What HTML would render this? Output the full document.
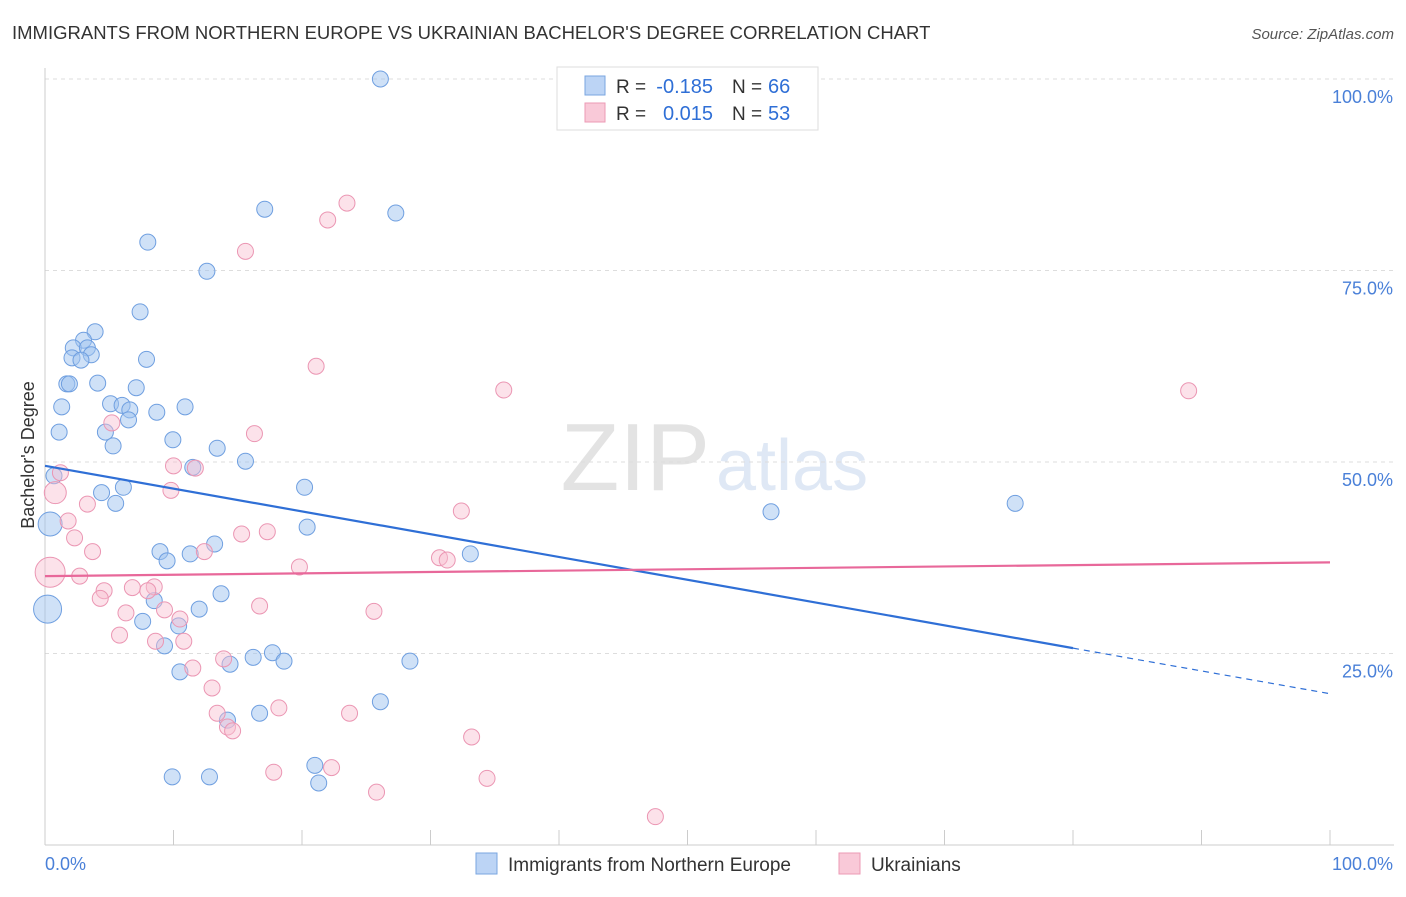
<!DOCTYPE html>
<html><head><meta charset="utf-8"><style>
body{margin:0;background:#fff;font-family:"Liberation Sans",sans-serif}
svg text{font-family:"Liberation Sans",sans-serif}
</style></head><body>
<svg id="c" width="1406" height="892">
<text x="12" y="39" font-size="18.5" fill="#333">IMMIGRANTS FROM NORTHERN EUROPE VS UKRAINIAN BACHELOR'S DEGREE CORRELATION CHART</text>
<text x="1394" y="39" font-size="15" fill="#555" font-style="italic" text-anchor="end">Source: ZipAtlas.com</text>
<text x="710" y="490" font-size="96" fill="#e3e3e3" text-anchor="end" font-family="Liberation Serif">ZIP</text>
<text x="716" y="490" font-size="72" fill="#dfe8f5">atlas</text>
<text transform="translate(34,455) rotate(-90)" font-size="18" fill="#333" text-anchor="middle">Bachelor's Degree</text>
<g id="grid"></g><g id="pts"></g><g id="lines"></g>
<g>
<rect x="557" y="67" width="261" height="63" fill="#fff" stroke="#ddd"/>
<rect x="585" y="76" width="20" height="19" fill="#bcd4f5" stroke="#7aa6e0"/>
<rect x="585" y="103" width="20" height="19" fill="#f9c9d8" stroke="#ec9ab5"/>
<text x="616" y="93" font-size="19" fill="#333">R =</text>
<text x="713" y="93" font-size="20" fill="#2f6fd6" text-anchor="end">-0.185</text>
<text x="732" y="93" font-size="19" fill="#333">N =</text>
<text x="768" y="93" font-size="20" fill="#2f6fd6">66</text>
<text x="616" y="120" font-size="19" fill="#333">R =</text>
<text x="713" y="120" font-size="20" fill="#2f6fd6" text-anchor="end">0.015</text>
<text x="732" y="120" font-size="19" fill="#333">N =</text>
<text x="768" y="120" font-size="20" fill="#2f6fd6">53</text>
</g>
<g>
<rect x="476" y="853" width="21" height="21" fill="#bcd4f5" stroke="#7aa6e0"/>
<text x="508" y="871" font-size="19" fill="#333">Immigrants from Northern Europe</text>
<rect x="839" y="853" width="21" height="21" fill="#f9c9d8" stroke="#ec9ab5"/>
<text x="871" y="871" font-size="19" fill="#333">Ukrainians</text>
</g>
</svg>
<script>
const yTicks=[25,50,75,100];
const xTickLabels=["0.0%","100.0%"];
const blueX=[26.1,17.1,27.3,8.0,12.6,7.4,3.9,3.0,2.2,3.3,3.6,2.1,2.8,7.9,1.7,1.9,4.1,7.1,1.3,5.1,6.0,6.6,8.7,10.9,6.5,1.1,4.7,5.3,9.95,13.4,15.6,11.5,0.7,20.2,6.1,4.4,5.5,20.4,13.2,8.95,11.3,9.5,33.1,13.7,8.5,12.0,7.6,10.4,9.3,17.7,16.2,18.6,14.4,10.5,28.4,26.1,16.7,14.2,21.0,9.9,12.8,21.3,56.5,75.5,0.4,0.2];
const blueY=[100,83.0,82.5,78.7,74.9,69.6,67.0,65.9,64.9,64.9,64.0,63.6,63.3,63.4,60.2,60.2,60.3,59.7,57.2,57.6,57.4,56.8,56.5,57.2,55.5,53.9,53.9,52.1,52.9,51.8,50.1,49.3,48.2,46.7,46.7,46.0,44.6,41.5,39.3,38.3,38.0,37.1,38.0,32.8,31.9,30.8,29.2,28.6,26.0,25.1,24.5,24.0,23.6,22.6,24.0,18.7,17.2,16.3,10.4,8.9,8.9,8.1,43.5,44.6,41.9,30.8];
const blueR=blueX.map((_,i)=>i==64?12:(i==65?14:8));
const pinkX=[23.5,22.0,15.6,21.1,35.7,89.0,5.2,16.3,1.2,0.8,9.8,11.7,3.3,1.8,32.4,2.3,3.7,15.3,17.3,12.4,30.7,31.3,19.8,0.4,2.7,6.8,8.5,4.6,8.0,4.3,16.7,25.6,6.3,9.3,10.5,5.8,8.6,10.8,11.5,13.9,13.0,18.2,13.4,23.7,14.2,14.6,33.2,17.8,22.3,34.4,25.8,47.5,10.0];
const pinkY=[83.8,81.6,77.5,62.5,59.4,59.3,55.1,53.7,48.6,46.0,46.3,49.2,44.5,42.3,43.6,40.1,38.3,40.6,40.9,38.3,37.5,37.2,36.3,35.6,35.1,33.6,33.7,33.2,33.2,32.2,31.2,30.5,30.3,30.7,29.5,27.4,26.6,26.6,23.1,24.3,20.5,17.9,17.2,17.2,15.4,14.9,14.1,9.5,10.1,8.7,6.9,3.7,49.5];
const pinkR=pinkX.map((_,i)=>i==9?11:(i==23?15:8));
const blueFit=[49.5,-0.2975], pinkFit=[35.1,0.018];
const X=v=>45+v*12.85, Y=v=>845-v*7.66;
const ns="http://www.w3.org/2000/svg";
function mk(t,a,p){const e=document.createElementNS(ns,t);for(const k in a)e.setAttribute(k,a[k]);p.appendChild(e);return e;}
const g=document.getElementById('grid');
yTicks.forEach(v=>{
const l=mk('line',{x1:45,x2:1394,y1:Y(v),y2:Y(v),stroke:'#ddd','stroke-dasharray':'4,4'},g);


const t=mk('text',{x:1393,y:Y(v)+24,'font-size':18,fill:'#4a80d8','text-anchor':'end'},g);t.textContent=v.toFixed(1)+'%';


});
mk('line',{x1:45,x2:45,y1:68,y2:845,stroke:'#ccc'},g);
mk('line',{x1:45,x2:1394,y1:845,y2:845,stroke:'#ccc'},g);
for(let i=0;i<=10;i++){mk('line',{x1:X(i*10),x2:X(i*10),y1:830,y2:845,stroke:'#ccc'},g);}
xTickLabels.forEach((s,i)=>{const t=mk('text',{x:i?1393:45,y:870,'font-size':18,fill:'#4a80d8','text-anchor':i?'end':'start'},g);t.textContent=s;

});
const p=document.getElementById('pts');
blueX.forEach((x,i)=>{const c=mk('circle',{cx:X(x),cy:Y(blueY[i]),r:blueR[i],fill:'rgba(160,196,240,0.5)',stroke:'#6f9fe0','stroke-width':1},p);

});
pinkX.forEach((x,i)=>{const c=mk('circle',{cx:X(x),cy:Y(pinkY[i]),r:pinkR[i],fill:'rgba(248,190,208,0.45)',stroke:'#eb96b3','stroke-width':1},p);

});
const L=document.getElementById('lines');
const bf=x=>blueFit[0]+blueFit[1]*x, pf=x=>pinkFit[0]+pinkFit[1]*x;
let a=mk('line',{x1:X(0),y1:Y(bf(0)),x2:X(80),y2:Y(bf(80)),stroke:'#2f6fd6','stroke-width':2.2},L);


let b=mk('line',{x1:X(80),y1:Y(bf(80)),x2:X(100),y2:Y(bf(100)),stroke:'#2f6fd6','stroke-width':1.2,'stroke-dasharray':'6,5'},L);


let c=mk('line',{x1:X(0),y1:Y(pf(0)),x2:X(100),y2:Y(pf(100)),stroke:'#e8689a','stroke-width':2.2},L);


</script>
</body></html>
